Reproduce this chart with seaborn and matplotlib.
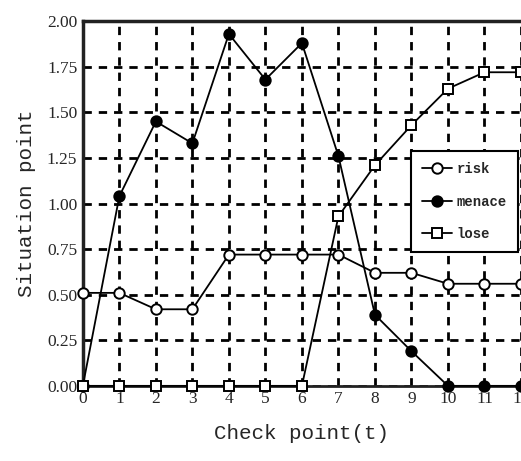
import matplotlib
matplotlib.use("Agg")
import matplotlib.pyplot as plt
import seaborn as sns
import pandas as pd

# values
check_points = list(range(13))
risk = [0.51, 0.51, 0.42, 0.42, 0.72, 0.72, 0.72, 0.72, 0.62, 0.62, 0.56, 0.56, 0.56]
menace = [0.0, 1.04, 1.45, 1.33, 1.93, 1.68, 1.88, 1.26, 0.39, 0.19, 0.0, 0.0, 0.0]
lose = [0.0, 0.0, 0.0, 0.0, 0.0, 0.0, 0.0, 0.93, 1.21, 1.43, 1.63, 1.72, 1.72]
y_ticks = [0.0, 0.25, 0.5, 0.75, 1.0, 1.25, 1.5, 1.75, 2.0]

df = pd.DataFrame({'t': check_points, 'risk': risk, 'menace': menace, 'lose': lose})

sns.set_style('white')
plt.rcParams['font.family'] = ['Liberation Serif', 'DejaVu Serif']

fig = plt.figure(figsize=(5.21, 4.61), dpi=100)
ax = fig.add_axes([0.159, 0.163, 0.841, 0.791])

common = dict(color='black', linewidth=1.3, markersize=7.5,
              markeredgecolor='black', markeredgewidth=1.4, clip_on=False)
sns.lineplot(data=df, x='t', y='risk', marker='o', markerfacecolor='white',
             label='risk', ax=ax, zorder=3, **common)
sns.lineplot(data=df, x='t', y='menace', marker='o', markerfacecolor='black',
             label='menace', ax=ax, zorder=4, **common)
sns.lineplot(data=df, x='t', y='lose', marker='s', markerfacecolor='white',
             label='lose', ax=ax, zorder=5, **common)

ax.set_xlim(0, 12)
ax.set_ylim(0, 2.0)
ax.set_xticks(check_points)
ax.set_yticks(y_ticks)
ax.set_yticklabels([f'{v:.2f}' for v in y_ticks])
ax.tick_params(axis='both', length=0, labelsize=12.5, pad=4)

ax.grid(True, color='black', linestyle=(0, (3, 2.5)), linewidth=2.0)
ax.set_axisbelow(True)
for side in ['left', 'top']:
    ax.spines[side].set_linewidth(2.5)
    ax.spines[side].set_color('#222222')
ax.spines['bottom'].set_linewidth(2.0)
ax.spines['bottom'].set_color('#222222')
ax.spines['right'].set_visible(False)

ax.set_xlabel('Check point(t)', fontsize=15, family=['Liberation Mono', 'DejaVu Sans Mono'], labelpad=12)
ax.set_ylabel('Situation point', fontsize=15, family=['Liberation Mono', 'DejaVu Sans Mono'], labelpad=8)

leg = ax.legend(loc='upper right', bbox_to_anchor=(0.993, 0.645), frameon=True, fancybox=False,
                edgecolor='black', framealpha=1, handlelength=2.2, handletextpad=0.3,
                borderpad=0.8, borderaxespad=0, labelspacing=1.35,
                prop={'family': 'Liberation Mono', 'size': 10, 'weight': 'bold'})
leg.get_frame().set_linewidth(1.5)
leg.set_zorder(10)

fig.savefig('out.png', dpi=100)
